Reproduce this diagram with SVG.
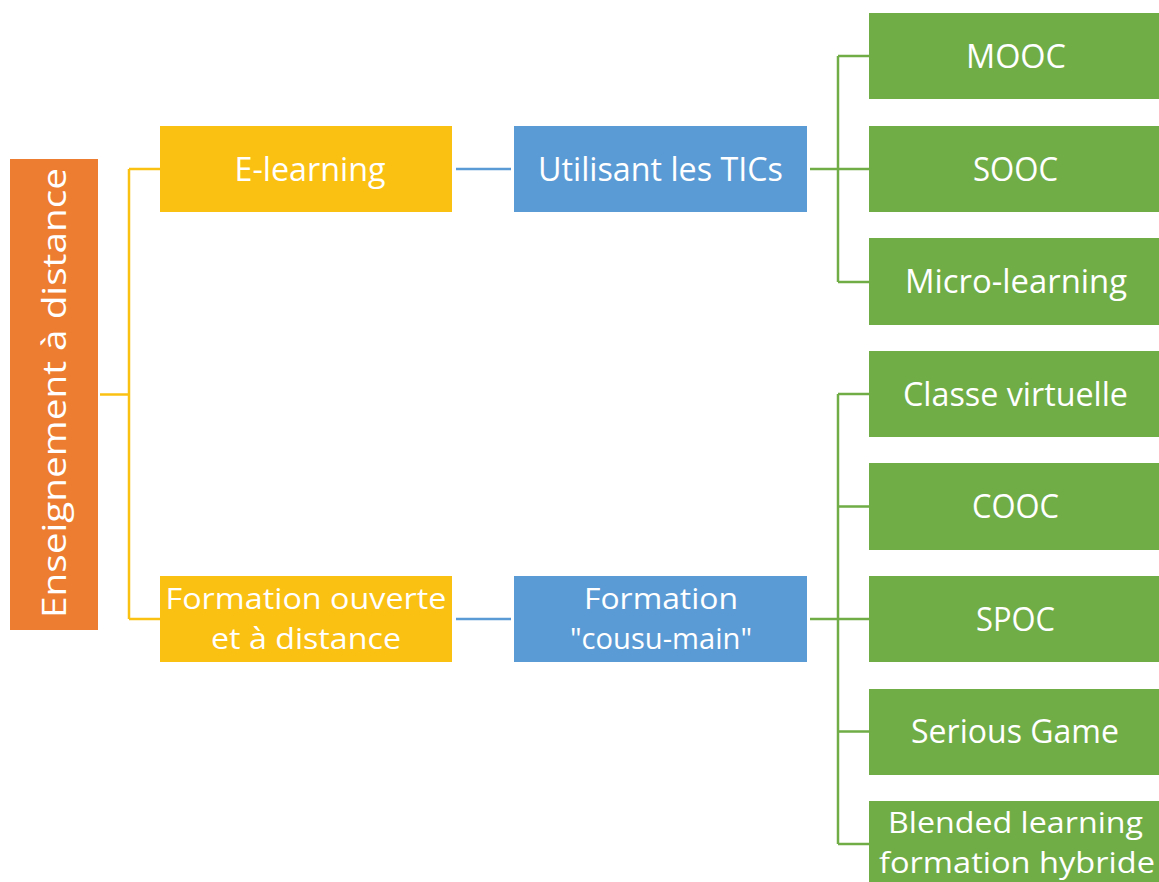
<svg xmlns="http://www.w3.org/2000/svg" width="1159" height="882" viewBox="0 0 1159 882">
  <style>
    .lbl { font-family: "Open Sans", "Noto Sans", "DejaVu Sans", sans-serif; font-size: 33px; fill: #ffffff; text-anchor: middle; }
    .two { font-size: 29px; }
    .root { fill: #ED7D31; }
    .lvl1 { fill: #FBC112; }
    .lvl2 { fill: #5B9BD5; }
    .leaf { fill: #70AD47; }
    .c-yellow { stroke: #FBC112; stroke-width: 2.5; fill: none; }
    .c-blue { stroke: #5B9BD5; stroke-width: 2.5; fill: none; }
    .c-green { stroke: #70AD47; stroke-width: 2.5; fill: none; }
  </style>
  <rect width="1159" height="882" fill="#ffffff"/>

  <!-- connectors -->
  <g id="connectors">
    <!-- root to level 1 -->
    <path class="c-yellow" d="M100 394.5 H129 M129 169 V619 M129 169 H160 M129 619 H160"/>
    <!-- level 1 to level 2 -->
    <path class="c-blue" d="M456 169 H511 M456 619 H511"/>
    <!-- TICs branch -->
    <path class="c-green" d="M810 169 H838 M838 56 V282 M838 56 H869 M838 169 H869 M838 282 H869"/>
    <!-- cousu-main branch -->
    <path class="c-green" d="M810 619 H838 M838 394 V844 M838 394 H869 M838 506.5 H869 M838 619 H869 M838 731.5 H869 M838 844 H869"/>
  </g>

  <g id="node-root">
    <rect class="root" x="10" y="159" width="88" height="471"/>
    <text class="lbl" transform="translate(66 393) rotate(-90)" x="0" y="0" textLength="450" lengthAdjust="spacingAndGlyphs" font-size="36">Enseignement à distance</text>
  </g>

  <g id="node-elearning">
    <rect class="lvl1" x="160" y="126" width="292" height="86"/>
    <text class="lbl" x="310" y="181" textLength="151" lengthAdjust="spacingAndGlyphs">E-learning</text>
  </g>
  <g id="node-foad">
    <rect class="lvl1" x="160" y="576" width="292" height="86"/>
    <text class="lbl two" x="306" y="609" textLength="281" lengthAdjust="spacingAndGlyphs">Formation ouverte</text>
    <text class="lbl two" x="306" y="649" textLength="190" lengthAdjust="spacingAndGlyphs">et à distance</text>
  </g>

  <g id="node-tics">
    <rect class="lvl2" x="514" y="126" width="293" height="86"/>
    <text class="lbl" x="660.5" y="181" textLength="245" lengthAdjust="spacingAndGlyphs">Utilisant les TICs</text>
  </g>
  <g id="node-cousu">
    <rect class="lvl2" x="514" y="576" width="293" height="86"/>
    <text class="lbl two" x="661" y="609" textLength="154" lengthAdjust="spacingAndGlyphs">Formation</text>
    <text class="lbl two" x="661" y="649" textLength="182" lengthAdjust="spacingAndGlyphs">"cousu-main"</text>
  </g>

  <g id="node-mooc">
    <rect class="leaf" x="869" y="13" width="290" height="86"/>
    <text class="lbl" x="1016" y="68" textLength="100" lengthAdjust="spacingAndGlyphs">MOOC</text>
  </g>
  <g id="node-sooc">
    <rect class="leaf" x="869" y="126" width="290" height="86"/>
    <text class="lbl" x="1015.5" y="181" textLength="85" lengthAdjust="spacingAndGlyphs">SOOC</text>
  </g>
  <g id="node-micro">
    <rect class="leaf" x="869" y="238" width="290" height="87"/>
    <text class="lbl" x="1016" y="293" textLength="222" lengthAdjust="spacingAndGlyphs">Micro-learning</text>
  </g>
  <g id="node-classe">
    <rect class="leaf" x="869" y="351" width="290" height="86"/>
    <text class="lbl" x="1015.5" y="406" textLength="225" lengthAdjust="spacingAndGlyphs">Classe virtuelle</text>
  </g>
  <g id="node-cooc">
    <rect class="leaf" x="869" y="463" width="290" height="87"/>
    <text class="lbl" x="1015.5" y="518" textLength="87" lengthAdjust="spacingAndGlyphs">COOC</text>
  </g>
  <g id="node-spoc">
    <rect class="leaf" x="869" y="576" width="290" height="86"/>
    <text class="lbl" x="1015.5" y="631" textLength="79" lengthAdjust="spacingAndGlyphs">SPOC</text>
  </g>
  <g id="node-serious">
    <rect class="leaf" x="869" y="689" width="290" height="86"/>
    <text class="lbl" x="1015" y="743" textLength="208" lengthAdjust="spacingAndGlyphs">Serious Game</text>
  </g>
  <g id="node-blended">
    <rect class="leaf" x="869" y="801" width="290" height="87"/>
    <text class="lbl two" x="1015.5" y="833" textLength="255" lengthAdjust="spacingAndGlyphs">Blended learning</text>
    <text class="lbl two" x="1017" y="873" textLength="276" lengthAdjust="spacingAndGlyphs">formation hybride</text>
  </g>
</svg>
